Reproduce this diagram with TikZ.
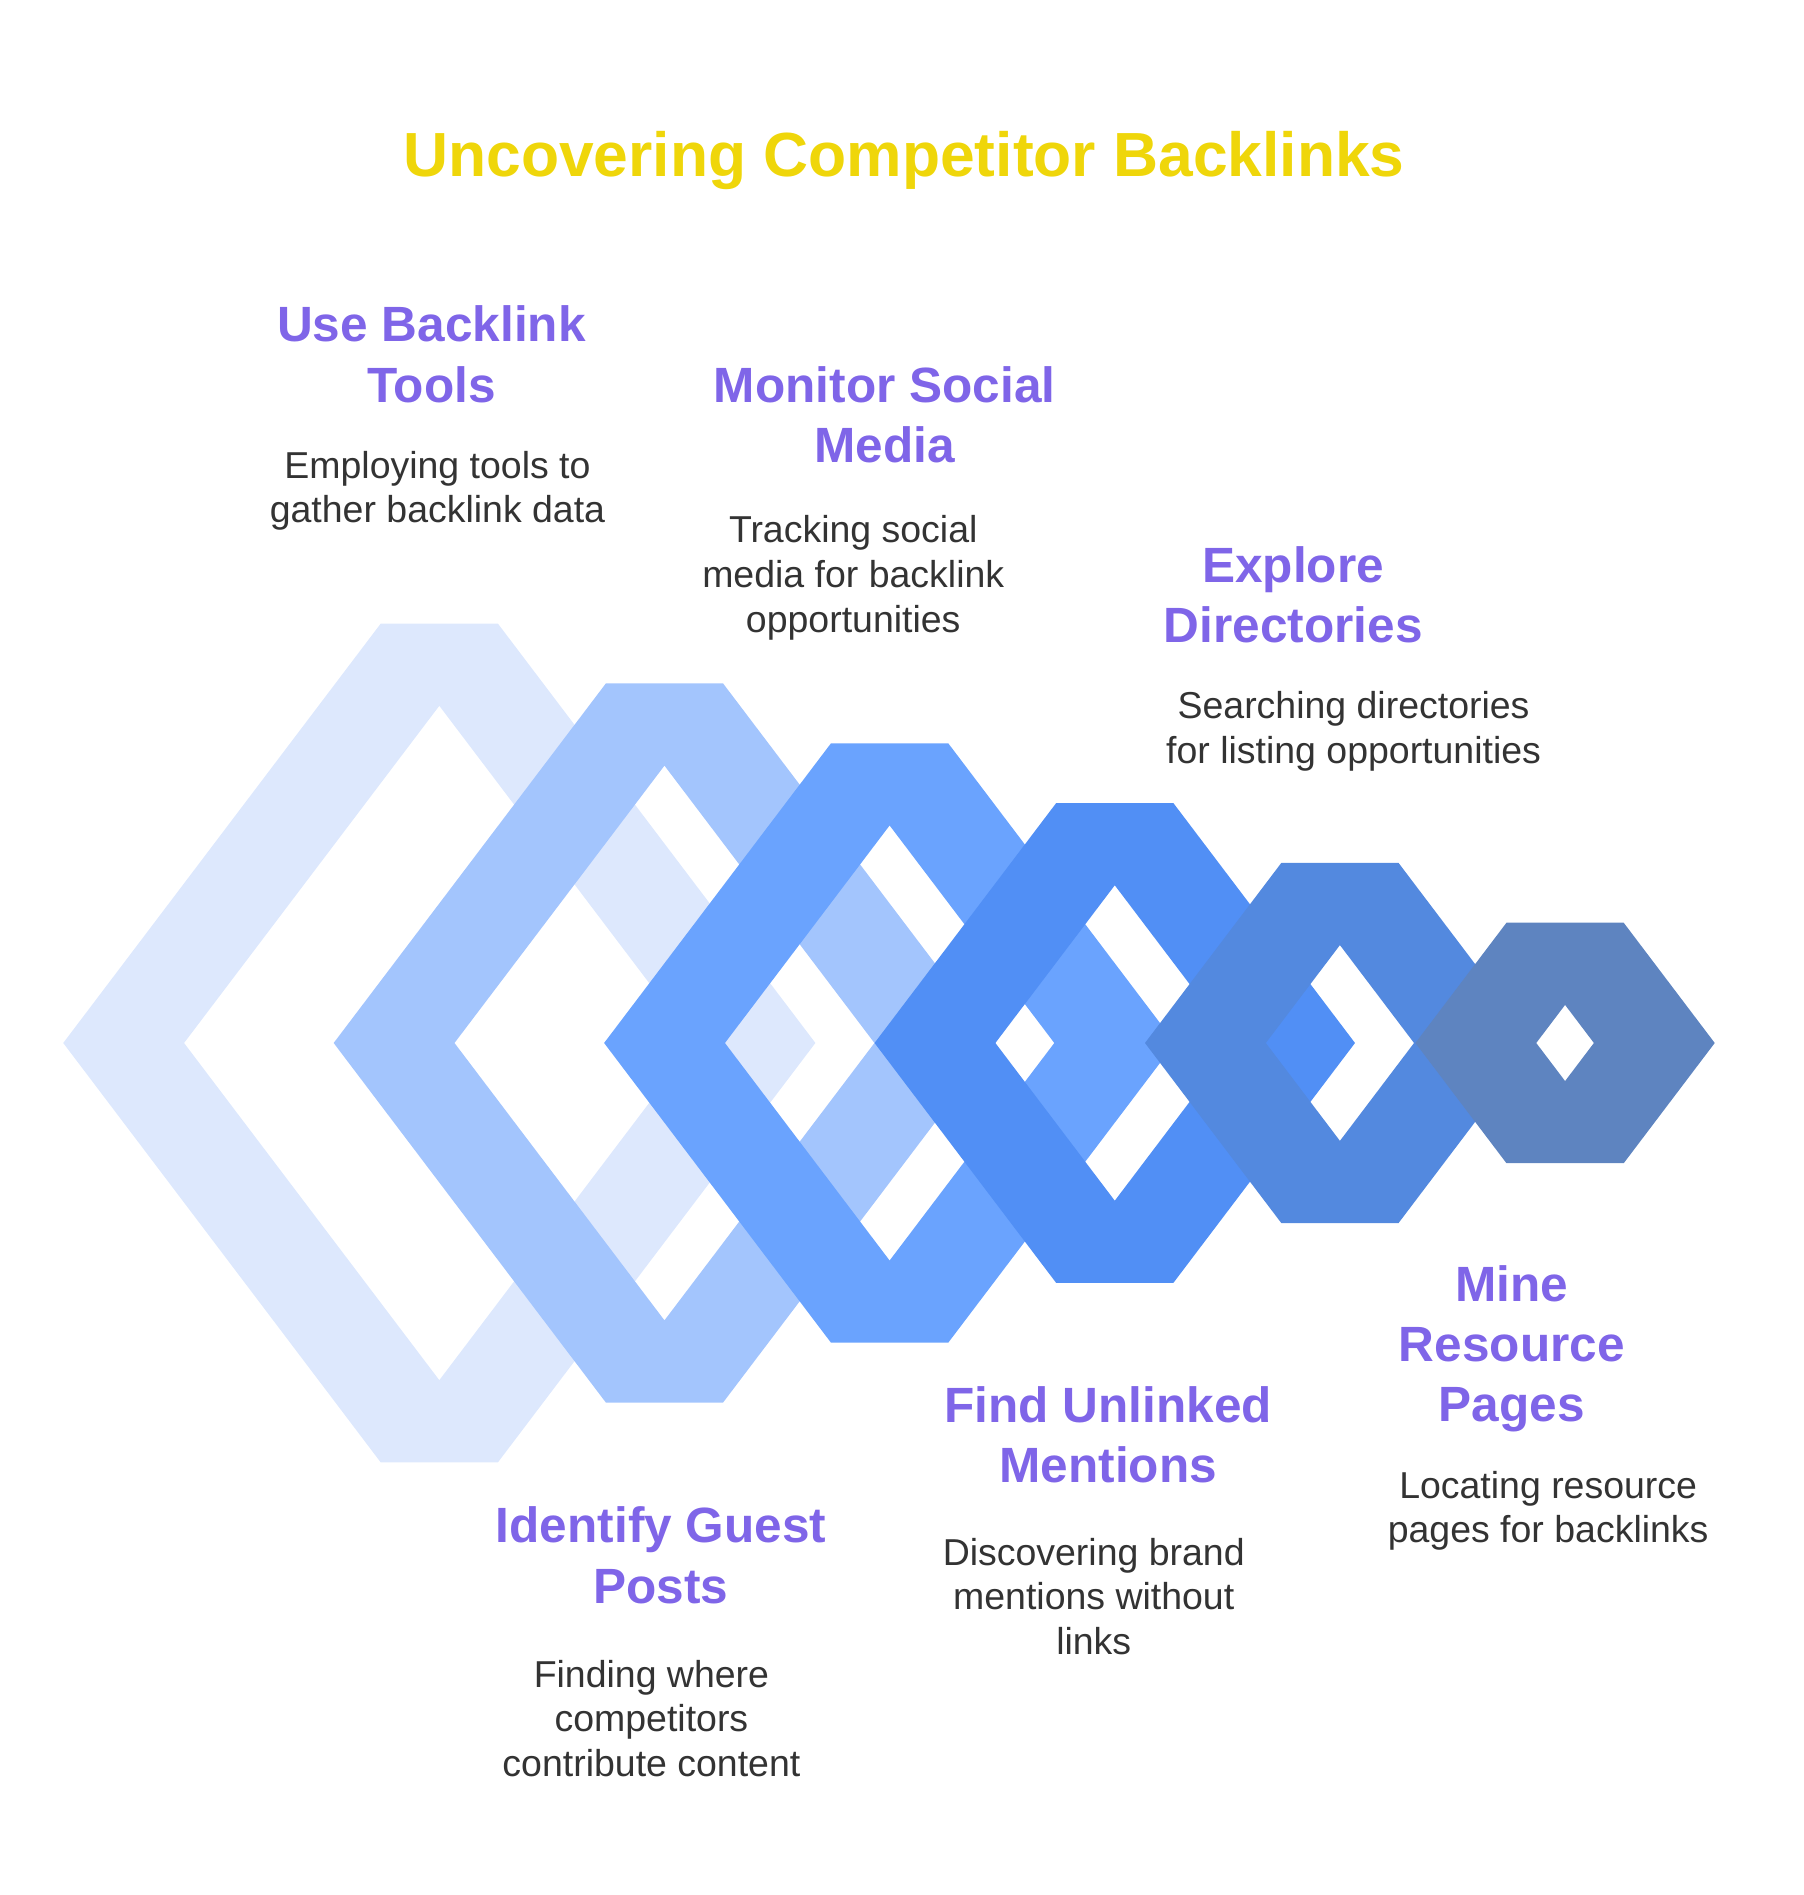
\documentclass[tikz,border=0pt]{standalone}
\usepackage{fontspec}
\setmainfont{Liberation Sans}
\usepackage{tikz}
\usetikzlibrary{positioning}
\definecolor{ringA}{HTML}{DDE8FD}
\definecolor{ringB}{HTML}{A3C5FD}
\definecolor{ringC}{HTML}{6AA3FE}
\definecolor{ringD}{HTML}{518FF5}
\definecolor{ringE}{HTML}{5389DF}
\definecolor{ringF}{HTML}{5E84C0}
\definecolor{ttlyellow}{HTML}{EFD60A}
\definecolor{lblpurple}{HTML}{7F65E8}
\definecolor{dscgray}{HTML}{333333}
% hexagonal ring: centre x, outer half height, colour
\newcommand{\hexring}[3]{%
  \pgfmathsetmacro{\rw}{48.5+0.757*#2}%
  \pgfmathsetmacro{\rh}{#2-68}%
  \pgfmathsetmacro{\rk}{0.757*(#2-68)}%
  \fill[#3,even odd rule]
    (#1-\rw,863) -- (#1-48.5,863-#2) -- (#1+48.5,863-#2) -- (#1+\rw,863)
    -- (#1+48.5,863+#2) -- (#1-48.5,863+#2) -- cycle
    (#1-\rk,863) -- (#1,863-\rh) -- (#1+\rk,863) -- (#1,863+\rh) -- cycle;
}
\tikzset{
  ttl/.style={font=\bfseries\fontsize{51.6}{60}\selectfont,text=ttlyellow,
    inner sep=0pt},
  lblhead/.style={font=\bfseries\fontsize{41}{50}\selectfont,text=lblpurple,
    align=center,inner sep=0pt},
  lbldesc/.style={font=\fontsize{31}{37}\selectfont,text=dscgray,
    align=center,inner sep=0pt},
}
\begin{document}
\begin{tikzpicture}[x=1pt,y=-1pt]
  \useasboundingbox (0,0) rectangle (1492,1568);
  \node[ttl] (title) at (748,133) {Uncovering Competitor Backlinks};

  \hexring{363.5}{347}{ringA}
  \hexring{549.8}{297.5}{ringB}
  \hexring{736.1}{248}{ringC}
  \hexring{922.4}{198.5}{ringD}
  \hexring{1108.7}{149}{ringE}
  \hexring{1295}{99.5}{ringF}

  \node[lblhead] (toolshd) at (357,293) {Use Backlink\\Tools};
  \node[lbldesc] (toolsds) at (362,406) {Employing tools to\\gather backlink data};
  \node[lblhead] (socialhd) at (732,343) {Monitor Social\\Media};
  \node[lbldesc] (socialds) at (706,478) {Tracking social\\media for backlink\\opportunities};
  \node[lblhead] (dirhd) at (1070,492) {Explore\\Directories};
  \node[lbldesc] (dirds) at (1120,605) {Searching directories\\for listing opportunities};
  \node[lblhead] (guesthd) at (547,1287) {Identify Guest\\Posts};
  \node[lbldesc] (guestds) at (539,1422) {Finding where\\competitors\\contribute content};
  \node[lblhead] (menthd) at (917,1187) {Find Unlinked\\Mentions};
  \node[lbldesc] (mentds) at (905,1321) {Discovering brand\\mentions without\\links};
  \node[lblhead] (reshd) at (1251,1116) {Mine\\Resource\\Pages};
  \node[lbldesc] (resds) at (1281,1250) {Locating resource\\pages for backlinks};
\end{tikzpicture}
\end{document}
